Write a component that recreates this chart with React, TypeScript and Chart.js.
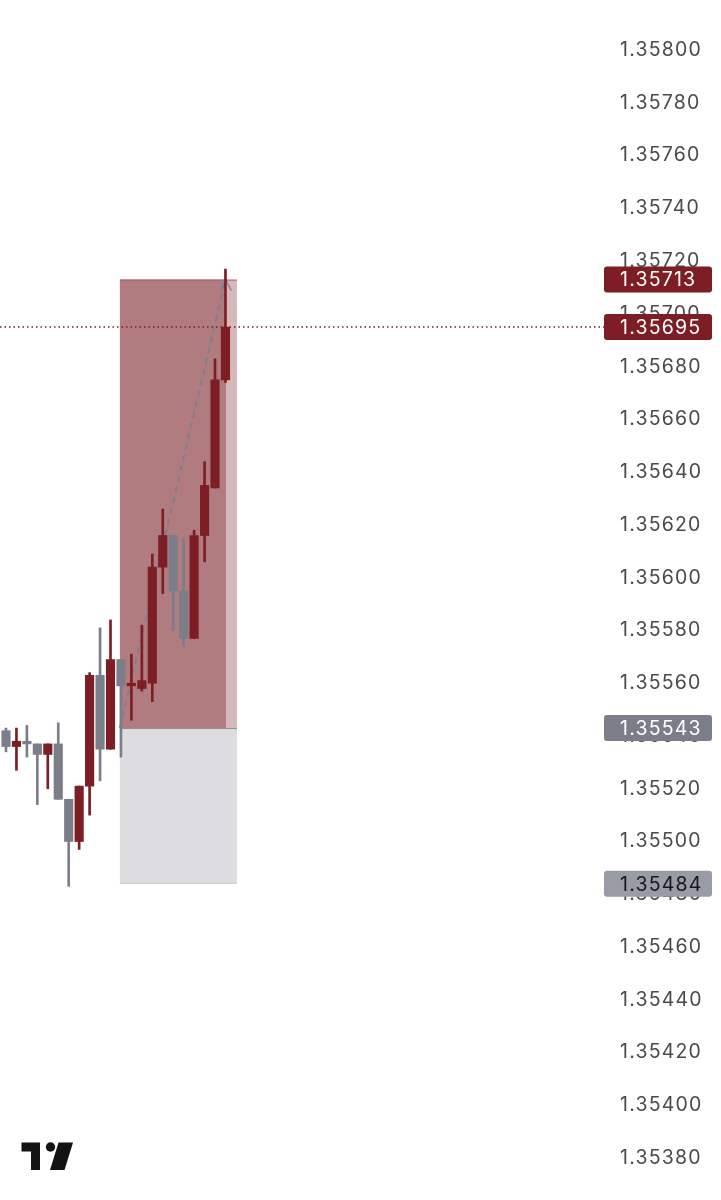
import React, { useEffect, useRef } from "react";
import { Chart, registerables } from "chart.js";

Chart.register(...registerables);

// ---- data ----
const candleIndex = [0, 1, 2, 3, 4, 5, 6, 7, 8, 9, 10, 11, 12, 13, 14, 15, 16, 17, 18, 19, 20, 21];
const opens = [1.35542, 1.35536, 1.35538, 1.35537, 1.35533, 1.35537, 1.35516, 1.355, 1.35521, 1.35563, 1.35535, 1.35569, 1.35559, 1.35558, 1.3556, 1.35604, 1.35616, 1.35595, 1.35577, 1.35616, 1.35634, 1.35675];
const highs = [1.35543, 1.35543, 1.35544, 1.35537, 1.35537, 1.35545, 1.35516, 1.35521, 1.35564, 1.35581, 1.35584, 1.35569, 1.35571, 1.35582, 1.35609, 1.35626, 1.35616, 1.35615, 1.35618, 1.35644, 1.35683, 1.35717];
const lows = [1.35534, 1.35527, 1.35532, 1.35514, 1.3552, 1.35516, 1.35483, 1.35497, 1.3551, 1.35523, 1.35535, 1.35532, 1.35546, 1.35557, 1.35553, 1.35594, 1.3558, 1.35574, 1.35577, 1.35606, 1.35634, 1.35674];
const closes = [1.35536, 1.35538, 1.35537, 1.35533, 1.35537, 1.35516, 1.355, 1.35521, 1.35563, 1.35535, 1.35569, 1.35559, 1.3556, 1.35561, 1.35604, 1.35616, 1.35595, 1.35577, 1.35616, 1.35635, 1.35675, 1.35695];

const yTicks = [1.358, 1.3578, 1.3576, 1.3574, 1.3572, 1.357, 1.3568, 1.3566, 1.3564, 1.3562, 1.356, 1.3558, 1.3556, 1.3554, 1.3552, 1.355, 1.3548, 1.3546, 1.3544, 1.3542, 1.354, 1.3538];

const takeProfit = 1.35713;
const entryPrice = 1.35543;
const stopLoss = 1.35484;
const lastPrice = 1.35695;
const positionStart = 10.9;
const positionFillEnd = 21.05;
const positionEnd = 22.1;
const exitIndex = 21;

const UP = "#7d1d24";
const DOWN = "#7b7e89";
const FONT = "Inter";
const LETTER_SPACING = "1.2px";

function roundRect(ctx: CanvasRenderingContext2D, x: number, y: number, w: number, h: number, r: number) {
  ctx.beginPath();
  ctx.moveTo(x + r, y);
  ctx.lineTo(x + w - r, y);
  ctx.quadraticCurveTo(x + w, y, x + w, y + r);
  ctx.lineTo(x + w, y + h - r);
  ctx.quadraticCurveTo(x + w, y + h, x + w - r, y + h);
  ctx.lineTo(x + r, y + h);
  ctx.quadraticCurveTo(x, y + h, x, y + h - r);
  ctx.lineTo(x, y + r);
  ctx.quadraticCurveTo(x, y, x + r, y);
  ctx.closePath();
}

const overlayPlugin = {
  id: "overlay",
  beforeDraw(chart: any) {
    (chart.ctx as any).letterSpacing = LETTER_SPACING;
  },
  beforeDatasetsDraw(chart: any) {
    const { ctx, scales, chartArea } = chart;
    const x = scales.x;
    const y = scales.y;
    const xl = x.getPixelForValue(positionStart);
    const xm = x.getPixelForValue(positionFillEnd);
    const xr = x.getPixelForValue(positionEnd);
    const yTP = y.getPixelForValue(takeProfit);
    const yE = y.getPixelForValue(entryPrice);
    const ySL = y.getPixelForValue(stopLoss);
    ctx.save();
    // profit zone
    ctx.fillStyle = "#d6b9bb";
    ctx.fillRect(xl, yTP, xr - xl, yE - yTP);
    ctx.fillStyle = "#b07c80";
    ctx.fillRect(xl, yTP, xm - xl, yE - yTP);
    // loss zone
    ctx.fillStyle = "#dddde0";
    ctx.fillRect(xl, yE, xr - xl, ySL - yE);
    // edges
    ctx.lineWidth = 1;
    ctx.strokeStyle = "#a4666b";
    ctx.beginPath();
    ctx.moveTo(xl, yTP + 0.5);
    ctx.lineTo(xr, yTP + 0.5);
    ctx.stroke();
    ctx.strokeStyle = "#8a8d96";
    ctx.beginPath();
    ctx.moveTo(xl, yE + 0.5);
    ctx.lineTo(xr, yE + 0.5);
    ctx.stroke();
    ctx.strokeStyle = "#c9c9cd";
    ctx.beginPath();
    ctx.moveTo(xl, ySL - 0.5);
    ctx.lineTo(xr, ySL - 0.5);
    ctx.stroke();
    // dashed path entry -> exit
    const xe = x.getPixelForValue(exitIndex);
    ctx.strokeStyle = "rgba(120,126,145,0.85)";
    ctx.lineWidth = 2;
    ctx.setLineDash([6, 5]);
    ctx.beginPath();
    ctx.moveTo(xl, yE);
    ctx.lineTo(xe, yTP);
    ctx.stroke();
    ctx.setLineDash([]);
    ctx.lineWidth = 1.5;
    ctx.beginPath();
    ctx.moveTo(xe, yTP);
    ctx.lineTo(xe + 6, yTP + 11);
    ctx.moveTo(xe, yTP);
    ctx.lineTo(xe - 4, yTP + 10);
    ctx.stroke();
    // dotted last price line
    const yL = y.getPixelForValue(lastPrice);
    ctx.strokeStyle = UP;
    ctx.lineWidth = 1.5;
    ctx.setLineDash([1.5, 3]);
    ctx.beginPath();
    ctx.moveTo(chartArea.left, yL);
    ctx.lineTo(chartArea.right, yL);
    ctx.stroke();
    ctx.restore();
  },
  afterDraw(chart: any) {
    const { ctx, scales, chartArea } = chart;
    const y = scales.y;
    const labels = [
      { v: takeProfit, bg: UP, fg: "#ffffff" },
      { v: lastPrice, bg: UP, fg: "#ffffff" },
      { v: entryPrice, bg: "#7b7e89", fg: "#ffffff" },
      { v: stopLoss, bg: "#9a9ca5", fg: "#131722" },
    ];
    ctx.save();
    (ctx as any).letterSpacing = LETTER_SPACING;
    ctx.font = `19.5px ${FONT}`;
    ctx.textBaseline = "middle";
    ctx.textAlign = "left";
    for (const l of labels) {
      const py = y.getPixelForValue(l.v);
      ctx.fillStyle = l.bg;
      roundRect(ctx, chartArea.right, py - 13, 108, 26, 3);
      ctx.fill();
      ctx.fillStyle = l.fg;
      ctx.fillText(l.v.toFixed(5), chartArea.right + 16, py + 1);
    }
    // TradingView logo
    ctx.fillStyle = "#131313";
    ctx.beginPath();
    ctx.moveTo(21.5, 1142.5);
    ctx.lineTo(40, 1142.5);
    ctx.lineTo(40, 1170);
    ctx.lineTo(31, 1170);
    ctx.lineTo(31, 1151.5);
    ctx.lineTo(21.5, 1151.5);
    ctx.closePath();
    ctx.fill();
    ctx.beginPath();
    ctx.arc(50.5, 1147, 4.7, 0, Math.PI * 2);
    ctx.fill();
    ctx.beginPath();
    ctx.moveTo(58.5, 1142.5);
    ctx.lineTo(73, 1142.5);
    ctx.lineTo(64.5, 1170);
    ctx.lineTo(50, 1170);
    ctx.closePath();
    ctx.fill();
    ctx.restore();
  },
};

export default function App() {
  const ref = useRef<HTMLCanvasElement | null>(null);
  useEffect(() => {
    if (!ref.current) return;
    const colorOf = (i: number) => (closes[i] >= opens[i] ? UP : DOWN);
    const chart = new Chart(ref.current, {
      type: "bar",
      data: {
        datasets: [
          {
            label: "bodies",
            data: candleIndex.map((i) => ({ x: i, y: [opens[i], closes[i]] })) as any,
            backgroundColor: (c: any) => colorOf(c.dataIndex),
            barThickness: 8.5,
            grouped: false,
            borderWidth: 0,
            order: 0,
          } as any,
          {
            label: "wicks",
            data: candleIndex.map((i) => ({ x: i, y: [lows[i], highs[i]] })) as any,
            backgroundColor: (c: any) => colorOf(c.dataIndex),
            barThickness: 2,
            grouped: false,
            borderWidth: 0,
            order: 1,
          } as any,
        ],
      },
      options: {
        animation: false,
        responsive: true,
        maintainAspectRatio: false,
        layout: { padding: 0 },
        plugins: { legend: { display: false }, tooltip: { enabled: false } },
        scales: {
          x: {
            type: "linear",
            display: false,
            offset: false,
            min: -0.574,
            max: 57.22,
          },
          y: {
            position: "right",
            min: 1.353641,
            max: 1.35819,
            grid: { display: false, drawTicks: false },
            border: { display: false },
            afterBuildTicks: (scale: any) => {
              scale.ticks = yTicks.map((v) => ({ value: v }));
            },
            afterFit: (scale: any) => {
              scale.width = 117;
              scale.paddingTop = 0;
              scale.paddingBottom = 0;
            },
            ticks: {
              padding: 16,
              color: "#4a4a4a",
              font: { family: FONT, size: 19.5 },
              callback: (v: any) => Number(v).toFixed(5),
            },
          },
        },
      },
      plugins: [overlayPlugin],
    });
    return () => chart.destroy();
  }, []);
  return (
    <div style={{ position: "fixed", left: 0, top: 0, width: 721, height: 1200, background: "#ffffff" }}>
      <canvas ref={ref} />
    </div>
  );
}
